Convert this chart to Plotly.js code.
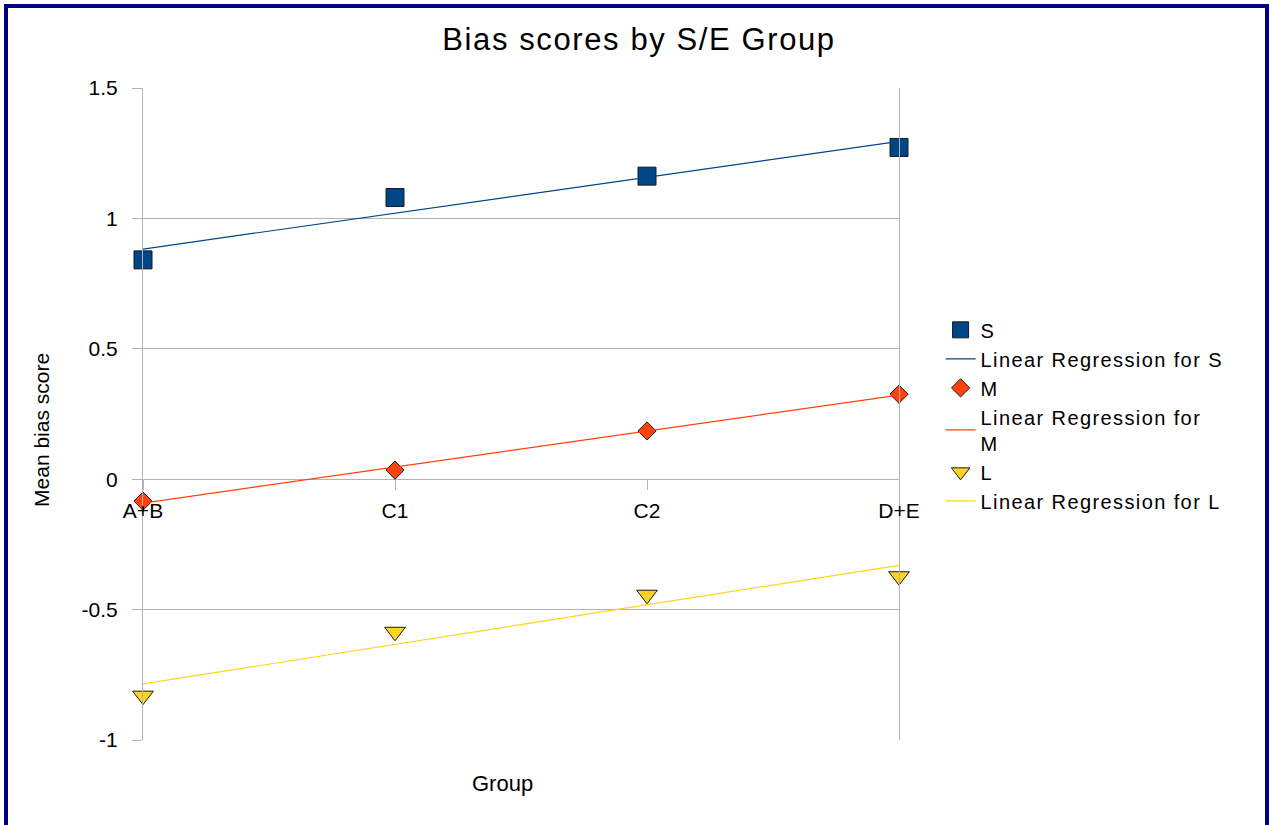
<!DOCTYPE html>
<html>
<head>
<meta charset="utf-8">
<script src="https://cdn.plot.ly/plotly-3.0.1.min.js"></script>
<style>
  html, body { margin: 0; padding: 0; background: #ffffff; }
  #frame {
    position: absolute; left: 4px; top: 4px;
    width: 1257px; height: 821px;
    border-left: 4px solid #000080; border-top: 4px solid #000080; border-right: 4px solid #000080;
    background: #ffffff;
  }
  #chart { width: 1257px; height: 817px; }
  .legendtext { letter-spacing: 1.4px; }
  .gtitle { letter-spacing: 1.6px; }
</style>
</head>
<body>
<div id="frame"><div id="chart"></div></div>
<script>
// ---- data ----
const groups = ["A+B", "C1", "C2", "D+E"];
const sValues = [0.841, 1.080, 1.162, 1.272];
const mValues = [-0.084, 0.035, 0.185, 0.326];
const lValues = [-0.830, -0.585, -0.443, -0.372];
const seriesNames = ["S", "M", "L"];
const yTicks = [-1, -0.5, 0, 0.5, 1, 1.5];
const yTickText = ["-1", "-0.5", "0", "0.5", "1", "1.5"];

// ---- helpers ----
const xs = groups.map((g, i) => i);
function regression(ys) {
  const n = ys.length;
  const mx = xs.reduce((a, b) => a + b, 0) / n;
  const my = ys.reduce((a, b) => a + b, 0) / n;
  let sxy = 0, sxx = 0;
  for (let i = 0; i < n; i++) { sxy += (xs[i] - mx) * (ys[i] - my); sxx += (xs[i] - mx) ** 2; }
  const b = sxy / sxx, a = my - b * mx;
  const ends = [xs[0], xs[n - 1]];
  return { x: ends, y: ends.map(x => a + b * x) };
}

const colors = ["#004586", "#ff420e", "#ffd320"];
const symbols = ["square", "diamond", "triangle-down"];
const sizes = [18, 14, 18];
const allValues = [sValues, mValues, lValues];

const traces = [];
allValues.forEach((vals, k) => {
  traces.push({
    type: "scatter", mode: "markers", name: seriesNames[k],
    x: xs, y: vals, cliponaxis: false,
    marker: { symbol: symbols[k], size: sizes[k], color: colors[k], line: { color: "#1a1a1a", width: 1 } }
  });
  const r = regression(vals);
  const regName = seriesNames[k] === "M" ? "Linear Regression for<br>M" : "Linear Regression for " + seriesNames[k];
  traces.push({
    type: "scatter", mode: "lines", name: regName,
    x: r.x, y: r.y, cliponaxis: false,
    line: { color: colors[k], width: 1.2 }
  });
});

const layout = {
  width: 1257, height: 817,
  paper_bgcolor: "#ffffff", plot_bgcolor: "#ffffff",
  font: { family: "Liberation Sans, Arial, sans-serif", color: "#000000" },
  margin: { l: 135, r: 366, t: 80, b: 85, pad: 0 },
  title: {
    text: "Bias scores by S/E Group",
    font: { size: 31, color: "#000000" },
    xref: "container", x: 0.502, xanchor: "center",
    yref: "container", y: 0.962, yanchor: "middle"
  },
  xaxis: {
    range: [0, 3],
    tickmode: "array", tickvals: xs, ticktext: groups,
    anchor: "free", position: 0.4,
    showgrid: false, zeroline: false, showline: false,
    ticks: "outside", ticklen: 10, tickcolor: "#b3b3b3", tickwidth: 1,
    tickfont: { size: 21, color: "#000000" },
    ticklabelstandoff: 3
  },
  yaxis: {
    range: [-1, 1.5],
    tickmode: "array", tickvals: yTicks, ticktext: yTickText,
    showgrid: true, gridcolor: "#b3b3b3", gridwidth: 1,
    zeroline: false,
    showline: true, linecolor: "#b3b3b3", linewidth: 1, mirror: true,
    ticks: "outside", ticklen: 10, tickcolor: "#b3b3b3", tickwidth: 1,
    tickfont: { size: 21, color: "#000000" },
    ticklabelstandoff: 10
  },
  legend: {
    x: 1.055, xanchor: "left", y: 0.659, yanchor: "top",
    font: { size: 20, color: "#000000" },
    bgcolor: "rgba(0,0,0,0)", tracegroupgap: 0
  },
  annotations: [
    {
      text: "Group", showarrow: false,
      xref: "paper", yref: "paper", x: 0.476, y: -0.066,
      xanchor: "center", yanchor: "middle",
      font: { size: 22, color: "#000000" }
    },
    {
      text: "Mean bias score", showarrow: false, textangle: -90,
      xref: "paper", yref: "paper", x: -0.1336, y: 0.4755,
      xanchor: "center", yanchor: "middle",
      font: { size: 21, color: "#000000" }
    }
  ],
  showlegend: true
};

Plotly.newPlot("chart", traces, layout, { displayModeBar: false, staticPlot: true });
</script>
</body>
</html>
